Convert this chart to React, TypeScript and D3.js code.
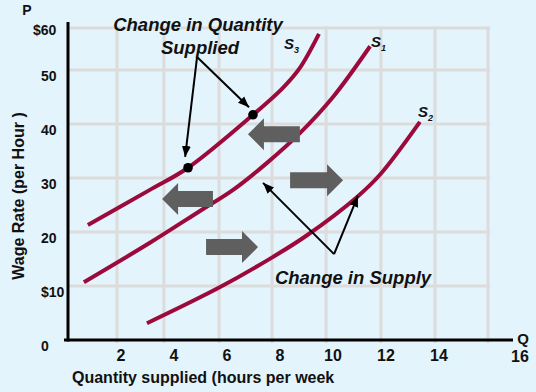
import React from "react";
import * as d3 from "d3";

const W = 536;
const H = 392;

// Curves: [Q (hours per week), P (wage rate)]
const s3Points: [number, number][] = [
  [0.75, 21.3], [3.09, 27.8], [4.53, 31.9], [6.98, 41.7], [8.11, 46.7], [8.75, 50.4], [9.47, 56.7],
];
const s1Points: [number, number][] = [
  [0.6, 10.7], [3.09, 18.0], [4.98, 23.9], [6.23, 27.8], [7.51, 32.8], [8.75, 38.3], [10.0, 45.0], [11.4, 54.4],
];
const s2Points: [number, number][] = [
  [2.98, 3.1], [5.74, 9.8], [7.74, 15.4], [9.02, 19.4], [10.91, 26.5], [11.77, 30.6], [13.28, 40.4],
];

// points marked on S3
const dots: [number, number][] = [[6.98, 41.7], [4.53, 31.9]];

// block arrows: [fromQ, toQ, P]
const blockArrows: [number, number, number][] = [
  [8.75, 6.79, 38.1],
  [5.47, 3.55, 26.1],
  [5.21, 7.17, 17.2],
  [8.38, 10.38, 29.6],
];

// annotation pointers: [fromQ, fromP, toQ, toP]
const pointers: [number, number, number, number][] = [
  [4.87, 52.4, 6.83, 43.1],
  [4.87, 52.4, 4.42, 33.9],
  [10.04, 15.9, 7.36, 29.1],
  [10.04, 15.9, 10.94, 26.7],
];

const xTicks = [2, 4, 6, 8, 10, 12, 14];
const xLastTick = "16";
const yTicks = [0, 10, 20, 30, 40, 50, 60];
const yTickLabels = ["0", "$10", "20", "30", "40", "50", "$60"];
const gridQ = [1.85, 3.62, 5.7, 7.7, 9.74, 11.81, 13.85, 15.85];
const gridP = [10, 20, 30, 40, 50];
const gridTopP = 57.8;

const curveLabels: { name: string; sub: string; q: number; p: number }[] = [
  { name: "S", sub: "3", q: 8.15, p: 53.9 },
  { name: "S", sub: "1", q: 11.43, p: 54.3 },
  { name: "S", sub: "2", q: 13.21, p: 41.3 },
];

const BG = "#e4f4fc";
const GRID = "#dcdcdc";
const CURVE = "#9c0a3b";
const ARROW = "#5f5f5f";
const FONT = "'Liberation Sans', Arial, Helvetica, sans-serif";

export default function App() {
  const x = d3.scaleLinear().domain([0, 16]).range([68, 68 + 26.5 * 16]);
  const y = d3.scaleLinear().domain([0, 60]).range([340, 16]);

  const line = d3
    .line<[number, number]>()
    .x((d) => x(d[0]))
    .y((d) => y(d[1]))
    .curve(d3.curveCatmullRom.alpha(0.5));

  const gridRight = x(gridQ[gridQ.length - 1]) + 2;
  const gridTop = y(gridTopP);

  const blockPath = (a: [number, number, number]) => {
    const x0 = x(a[0]);
    const x1 = x(a[1]);
    const yy = y(a[2]);
    const dir = Math.sign(x1 - x0);
    const bh = 8;
    const hh = 16;
    const hl = 16;
    const xb = x1 - dir * hl;
    return `M${x0},${yy - bh}L${xb},${yy - bh}L${xb},${yy - hh}L${x1},${yy}L${xb},${yy + hh}L${xb},${yy + bh}L${x0},${yy + bh}Z`;
  };

  return (
    <svg
      width={W}
      height={H}
      style={{ position: "absolute", left: 0, top: 0, display: "block" }}
      fontFamily={FONT}
    >
      <defs>
        <marker
          id="ah"
          markerUnits="userSpaceOnUse"
          markerWidth={12}
          markerHeight={10}
          refX={11}
          refY={5}
          orient="auto"
        >
          <path d="M0,0.5L11,5L0,9.5Z" fill="#000" />
        </marker>
      </defs>
      <rect x={0} y={0} width={W} height={H} fill={BG} />

      {/* grid */}
      {gridP.map((p) => (
        <line key={"h" + p} x1={x(0)} x2={gridRight} y1={y(p)} y2={y(p)} stroke={GRID} strokeWidth={3} />
      ))}
      <line x1={x(0)} x2={gridRight} y1={gridTop} y2={gridTop} stroke={GRID} strokeWidth={3} />
      {gridQ.map((q) => (
        <line key={"v" + q} x1={x(q)} x2={x(q)} y1={gridTop - 1.5} y2={y(0) + 3} stroke={GRID} strokeWidth={3} />
      ))}

      {/* axes */}
      <line x1={x(0)} x2={x(0)} y1={22} y2={y(0) + 1.5} stroke="#000" strokeWidth={3} />
      <line x1={x(0) - 4} x2={513} y1={y(0)} y2={y(0)} stroke="#000" strokeWidth={3} />

      {/* y tick labels */}
      {yTicks.map((v, i) => {
        const top = v === 60;
        const yy = top ? gridTop + 7 : y(v) + 11;
        return (
          <text
            key={"yt" + v}
            x={top ? 33 : 41}
            y={yy}
            fontSize={14}
            fontWeight="bold"
            fill="#111"
          >
            {yTickLabels[i]}
          </text>
        );
      })}

      {/* x tick labels */}
      {xTicks.map((v) => (
        <text key={"xt" + v} x={x(v)} y={361} fontSize={16} fontWeight="bold" textAnchor="middle" fill="#111">
          {v}
        </text>
      ))}
      <text x={520} y={362} fontSize={16} fontWeight="bold" textAnchor="middle" fill="#111">
        {xLastTick}
      </text>
      <text x={523} y={344} fontSize={15} fontWeight="bold" textAnchor="middle" fill="#111">
        Q
      </text>
      <text x={27} y={15} fontSize={14} fontWeight="bold" textAnchor="middle" fill="#111">
        P
      </text>

      {/* axis titles */}
      <text x={72} y={383} fontSize={16} fontWeight="bold" fill="#111">
        Quantity supplied (hours per week
      </text>
      <text
        transform="translate(24,196) rotate(-90)"
        fontSize={16}
        fontWeight="bold"
        textAnchor="middle"
        fill="#111"
      >
        Wage Rate (per Hour )
      </text>

      {/* curves */}
      {[s3Points, s1Points, s2Points].map((pts, i) => (
        <path key={"c" + i} d={line(pts) || ""} fill="none" stroke={CURVE} strokeWidth={4} />
      ))}

      {/* block arrows */}
      {blockArrows.map((a, i) => (
        <path key={"ba" + i} d={blockPath(a)} fill={ARROW} />
      ))}

      {/* dots */}
      {dots.map((d, i) => (
        <circle key={"d" + i} cx={x(d[0])} cy={y(d[1])} r={4.8} fill="#000" />
      ))}

      {/* pointers */}
      {pointers.map((p, i) => (
        <line
          key={"p" + i}
          x1={x(p[0])}
          y1={y(p[1])}
          x2={x(p[2])}
          y2={y(p[3])}
          stroke="#000"
          strokeWidth={2}
          markerEnd="url(#ah)"
        />
      ))}

      {/* curve labels */}
      {curveLabels.map((c, i) => (
        <text key={"cl" + i} x={x(c.q)} y={y(c.p)} fontSize={15} fontWeight="bold" fontStyle="italic" fill="#111">
          {c.name}
          <tspan fontSize={9} dy={4}>
            {c.sub}
          </tspan>
        </text>
      ))}

      {/* annotations */}
      <text x={198} y={31} fontSize={18.5} fontWeight="bold" fontStyle="italic" textAnchor="middle" fill="#111">
        Change in Quantity
      </text>
      <text x={200} y={54} fontSize={18.5} fontWeight="bold" fontStyle="italic" textAnchor="middle" fill="#111">
        Supplied
      </text>
      <text x={353} y={284} fontSize={18.5} fontWeight="bold" fontStyle="italic" textAnchor="middle" fill="#111">
        Change in Supply
      </text>
    </svg>
  );
}
